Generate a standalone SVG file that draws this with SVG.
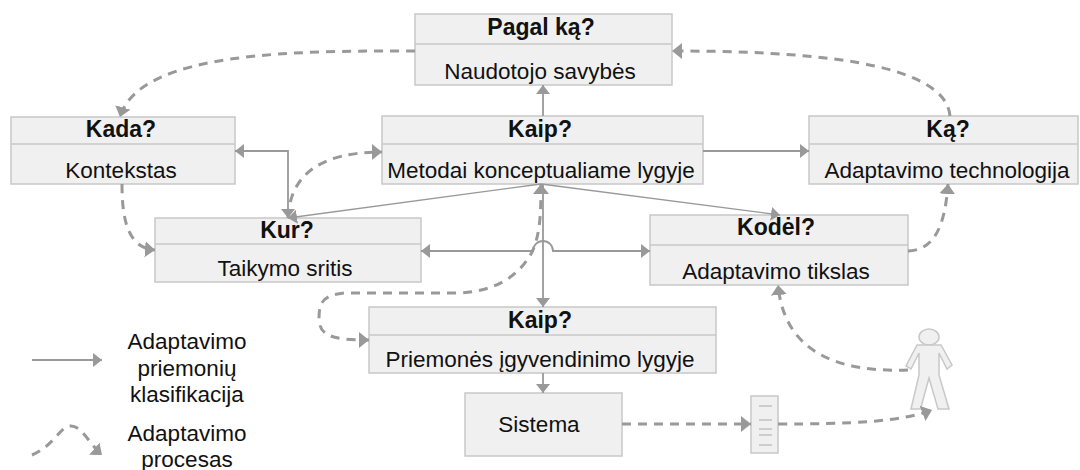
<svg xmlns="http://www.w3.org/2000/svg" width="1080" height="470" viewBox="0 0 1080 470">
<style>
.box{fill:#f0f0f0;stroke:#c8c8c8;stroke-width:1.5}
.div{stroke:#c8c8c8;stroke-width:1.5;fill:none}
.ln{stroke:#aaa;stroke-width:1.2;fill:none}
text{font-family:"Liberation Sans",Arial,sans-serif;font-size:22.500px;fill:#111;text-anchor:middle}
.h{font-weight:bold;font-size:23px}
.s{fill:none;stroke:#999;stroke-width:1.8}
.t{fill:none;stroke:#999;stroke-width:1.3}
.d{fill:none;stroke:#999;stroke-width:3;stroke-dasharray:9 7}
</style>
<defs>
<marker id="a" markerUnits="userSpaceOnUse" markerWidth="12" markerHeight="16" refX="9" refY="7" orient="auto-start-reverse"><path d="M0 0L9 7L0 14Z" fill="#999"/></marker>
<marker id="b" markerUnits="userSpaceOnUse" markerWidth="14" markerHeight="18" refX="10" refY="8" orient="auto-start-reverse"><path d="M0 0L10 8L0 16Z" fill="#999"/></marker>
</defs>
<g id="n1"><rect class="box" x="415" y="14" width="257" height="71"/><path class="div" d="M415 44H672"/><text class="h" x="541" y="35">Pagal ką?</text><text x="540" y="79">Naudotojo savybės</text></g>
<g id="n2"><rect class="box" x="11" y="117" width="224" height="67"/><path class="div" d="M11 144H235"/><text class="h" x="121" y="137">Kada?</text><text x="121" y="178">Kontekstas</text></g>
<g id="n3"><rect class="box" x="382" y="116" width="321" height="68"/><path class="div" d="M382 144H703"/><text class="h" x="540" y="137">Kaip?</text><text x="541" y="178">Metodai konceptualiame lygyje</text></g>
<g id="n4"><rect class="box" x="809" y="116" width="269" height="68"/><path class="div" d="M809 144H1078"/><text class="h" x="948" y="137">Ką?</text><text x="947" y="178">Adaptavimo technologija</text></g>
<g id="n5"><rect class="box" x="155" y="218" width="266" height="64"/><path class="div" d="M155 244H421"/><text class="h" x="287" y="238">Kur?</text><text x="285" y="276">Taikymo sritis</text></g>
<g id="n6"><rect class="box" x="650" y="215" width="258" height="70"/><path class="div" d="M650 245H908"/><text class="h" x="776" y="235">Kodėl?</text><text x="776" y="279">Adaptavimo tikslas</text></g>
<g id="n7"><rect class="box" x="369" y="307" width="347" height="66"/><path class="div" d="M369 335H716"/><text class="h" x="540" y="328">Kaip?</text><text x="540" y="367">Priemonės įgyvendinimo lygyje</text></g>
<g id="n8"><rect class="box" x="465" y="393" width="157" height="63"/><text x="539" y="432">Sistema</text></g>
<g id="n9"><rect class="box" x="751" y="396" width="27" height="57"/><path class="ln" d="M759 406H772M759 420H772M759 429H772M759 435H772M759 445H772"/></g>
<g id="n10"><ellipse class="box" cx="929" cy="337" rx="10" ry="8"/><path class="box" d="M917 345L941 345L952 365L947 369L939 353L939 375L949 409L938 409L929 378L920.500 409L911 409L919 375L919 353L911 369L906 366Z"/></g>
<g id="connectors">
<path class="s" marker-end="url(#a)" d="M543 116V85"/>
<path class="s" marker-end="url(#a)" d="M703 151H809"/>
<path class="s" marker-start="url(#a)" marker-end="url(#a)" d="M235 151H288V218"/>
<path class="t" marker-end="url(#a)" d="M541 184L288 218"/>
<path class="t" marker-end="url(#a)" d="M541 184L780 215"/>
<path class="s" marker-end="url(#a)" d="M543 184V307"/>
<path class="s" marker-start="url(#a)" marker-end="url(#a)" d="M421 251H533A10 10 0 0 1 553 251H650"/>
<path class="s" marker-end="url(#a)" d="M543 373V393"/>
<path class="d" marker-end="url(#b)" d="M415 51C300 51 140 50 120 117"/>
<path class="d" marker-end="url(#b)" d="M950 116C945 60 800 51 672 51"/>
<path class="d" marker-end="url(#b)" d="M122 184C122 225 130 248 155 250"/>
<path class="d" marker-end="url(#b)" d="M288 218C290 175 320 152 382 152"/>
<path class="d" marker-start="url(#b)" marker-end="url(#b)" d="M541 184C541 215 540 235 532 252C520 275 495 293 455 293H345C325 295 319 300 319 318C319 335 330 340 369 340"/>
<path class="d" marker-end="url(#b)" d="M908 251C935 250 945 225 948 184"/>
<path class="d" marker-end="url(#b)" d="M908 370C850 372 785 360 778 285"/>
<path class="d" marker-end="url(#b)" d="M622 424H751"/>
<path class="d" marker-end="url(#b)" d="M778 424C850 424 900 422 932 410"/>
<path class="s" marker-end="url(#a)" d="M32 360H102"/>
<path class="d" marker-end="url(#b)" d="M32 455C55 445 60 426 71 426C82 426 90 445 102 455"/>
</g>
<g id="legend"><text x="187" y="349">Adaptavimo</text><text x="187" y="376">priemonių</text><text x="187" y="402">klasifikacija</text><text x="187" y="441">Adaptavimo</text><text x="187" y="467">procesas</text></g>
</svg>
